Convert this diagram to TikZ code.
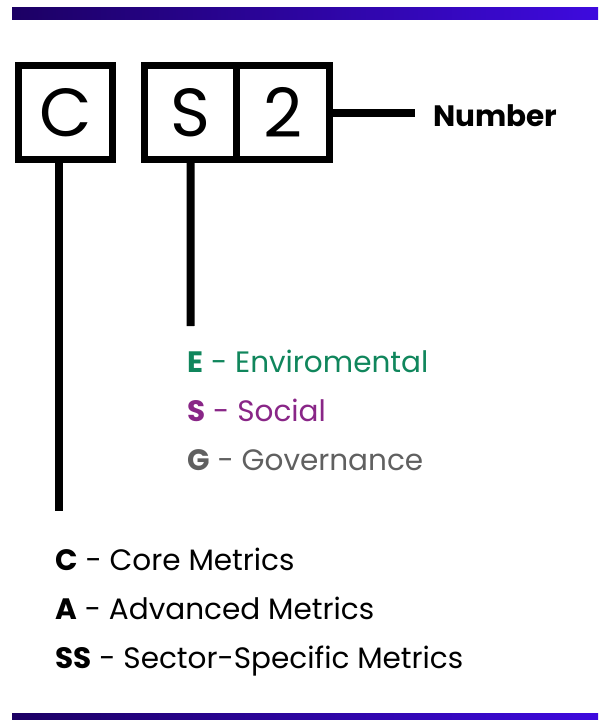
\documentclass[tikz,border=0pt]{standalone}
\usepackage{fontspec}
\setmainfont{Poppins}
\usepackage{tikz}
\usetikzlibrary{positioning}
\definecolor{BarDark}{RGB}{28, 0, 100}
\definecolor{BarLight}{RGB}{62, 10, 222}
\definecolor{EnvGreen}{RGB}{16, 134, 92}
\definecolor{SocPurple}{RGB}{137, 38, 135}
\definecolor{GovGray}{RGB}{96, 96, 96}

\begin{document}
\begin{tikzpicture}[
		x=1pt, y=-1pt,
		letterBox/.style={
			rectangle, draw=black, line width=7pt,
			minimum width=94pt, minimum height=94pt,
			inner sep=0pt, font=\fontsize{68}{68}\selectfont
		},
		stem/.style={draw=black, line width=8pt},
		legend/.style={anchor=base west, inner sep=0pt, font=\fontsize{29.5}{29.5}\selectfont},
		envNode/.style={legend, text=EnvGreen},
		socNode/.style={legend, text=SocPurple},
		govNode/.style={legend, text=GovGray},
		metricNode/.style={legend, text=black}
		]
		\useasboundingbox (0,0) rectangle (605,720);
		
		% top and bottom bars
		\shade[left color=BarDark, right color=BarLight] (12,7) rectangle (598,19);
		\shade[left color=BarDark, right color=BarLight] (12,713) rectangle (598,720);
		
		% code boxes
		\node[letterBox] (boxC) at (65.5,112.5) {C};
		\node[letterBox, minimum width=92pt] (boxS) at (190.5,112.5) {S};
		\node[letterBox, minimum width=93pt] (boxNum) at (283,112.5) {2};
		
		% line ends
		\coordinate (cEnd) at (59,511);
		\coordinate (sEnd) at (190.7,326);
		\coordinate (numEnd) at (415,112.5);
		
		\draw [stem] (boxC.south -| cEnd) -- (cEnd);
		\draw [stem] (boxS.south) -- (sEnd);
		\draw [stem] (boxNum.east) -- (numEnd);
		
		\node[anchor=base west, inner sep=0pt, font=\fontsize{29.5}{29.5}\selectfont\bfseries] (number) at (433,126) {Number};
		
		% pillars
		\node[envNode] (env) at (187,372) {\textbf{E} - Enviromental};
		\node[socNode] (soc) at (187,421) {\textbf{S} - Social};
		\node[govNode] (gov) at (187,470) {\textbf{G} - Governance};
		
		% metric types
		\node[metricNode] (core) at (55,570) {\textbf{C} - Core Metrics};
		\node[metricNode] (adv) at (55,619) {\textbf{A} - Advanced Metrics};
		\node[metricNode] (sector) at (55,668) {\textbf{SS} - Sector-Specific Metrics};
	\end{tikzpicture}
\end{document}
